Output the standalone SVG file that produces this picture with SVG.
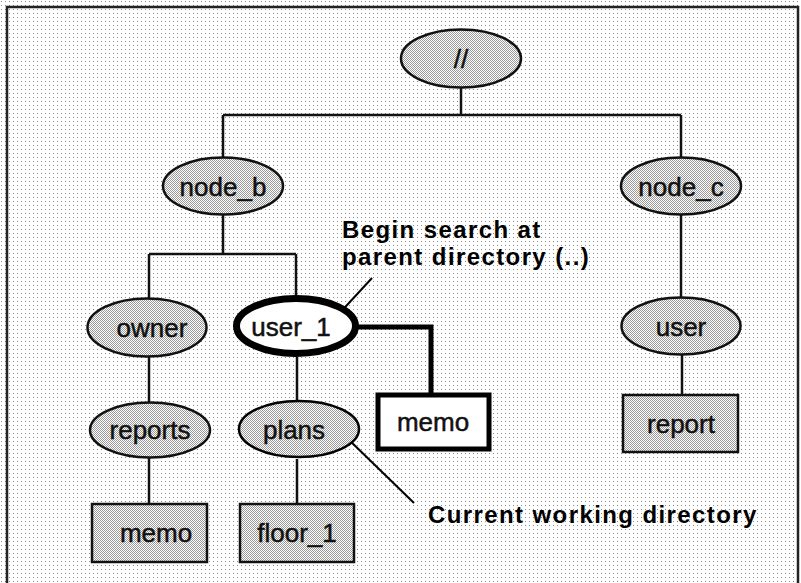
<svg xmlns="http://www.w3.org/2000/svg" width="801" height="583" viewBox="0 0 801 583">
  <defs>
    <!-- light screen for the page background -->
    <pattern id="screen-light" patternUnits="userSpaceOnUse" x="0" y="0" width="4" height="4">
      <rect width="4" height="4" fill="#ffffff"/>
      <rect x="1" y="1" width="1" height="1" fill="#8a8a8a"/>
    </pattern>
    <!-- denser screen for directory and file nodes -->
    <pattern id="screen-dense" patternUnits="userSpaceOnUse" x="0" y="0" width="2" height="2">
      <rect width="2" height="2" fill="#ffffff"/>
      <rect x="0" y="0" width="1" height="1" fill="#999999"/>
      <rect x="1" y="1" width="1" height="1" fill="#999999"/>
    </pattern>
    <style>
      .dir { fill: url(#screen-dense); stroke: #111; stroke-width: 2.5; }
      .file { fill: url(#screen-dense); stroke: #111; stroke-width: 2.5; }
      .hl { stroke: #000; }
      .lbl { font-family: "Liberation Sans", Arial, Helvetica, sans-serif; font-size: 26px; fill: #111; stroke: #111; stroke-width: 0.5; text-anchor: middle; }
      .note { font-family: "Liberation Sans", Arial, Helvetica, sans-serif; font-size: 24px; font-weight: bold; fill: #000; letter-spacing: 1.4px; }
      .edge { fill: none; stroke: #111; stroke-width: 2.5; }
      .edge-bold { fill: none; stroke: #000; stroke-width: 5; }
      .leader { fill: none; stroke: #000; stroke-width: 2; }
    </style>
  </defs>

  <!-- page -->
  <rect x="0" y="0" width="801" height="583" fill="url(#screen-light)"/>
  <path d="M7,583 V7 H798 V583" fill="none" stroke="#222" stroke-width="2.5"/>

  <!-- connectors -->
  <g id="connectors">
    <path class="edge" d="M461,88 V115 M223,115 H681 M223,115 V157 M681,115 V157"/>
    <path class="edge" d="M223,215 V254 M149,254 H296 M149,254 V298 M296,254 V296"/>
    <path class="edge" d="M149,357 V402 M149,458 V504"/>
    <path class="edge" d="M297,357 V400 M297,459 V504"/>
    <path class="edge" d="M681,215 V297 M682,355 V395"/>
    <path class="edge-bold" d="M358,327 H431 V393"/>
    <path class="leader" d="M372,278 L336,317"/>
    <path class="leader" d="M346,437 L414,503"/>
  </g>

  <g id="root">
    <ellipse class="dir" cx="461" cy="58.5" rx="60" ry="29"/>
    <text class="lbl" x="461" y="68">//</text>
  </g>

  <g id="node_b">
    <ellipse class="dir" cx="223" cy="186" rx="60" ry="28.5"/>
    <text class="lbl" x="223" y="196">node_b</text>
  </g>

  <g id="node_c">
    <ellipse class="dir" cx="681" cy="186" rx="60" ry="28.5"/>
    <text class="lbl" x="681" y="196">node_c</text>
  </g>

  <g id="owner">
    <ellipse class="dir" cx="147" cy="327.5" rx="59.5" ry="29"/>
    <text class="lbl" x="152" y="337">owner</text>
  </g>

  <g id="user_1">
    <ellipse cx="296" cy="326" rx="59.5" ry="27.5" fill="#ffffff" stroke="#000" stroke-width="7"/>
    <text class="lbl" x="291" y="336">user_1</text>
  </g>

  <g id="user">
    <ellipse class="dir" cx="681" cy="326" rx="59.5" ry="28.5"/>
    <text class="lbl" x="681" y="336">user</text>
  </g>

  <g id="reports">
    <ellipse class="dir" cx="150" cy="430" rx="60" ry="27.5"/>
    <text class="lbl" x="150" y="439">reports</text>
  </g>

  <g id="plans">
    <ellipse class="dir hl" cx="299" cy="429" rx="60" ry="28" stroke-width="5"/>
    <text class="lbl" x="294" y="439">plans</text>
  </g>

  <g id="memo_reports">
    <rect class="file" x="92" y="504" width="115" height="58"/>
    <text class="lbl" x="156" y="542">memo</text>
  </g>

  <g id="floor_1">
    <rect class="file" x="240" y="504" width="114" height="58"/>
    <text class="lbl" x="297" y="542">floor_1</text>
  </g>

  <g id="memo_user_1">
    <rect x="378" y="395" width="111" height="54" fill="#ffffff" stroke="#000" stroke-width="5"/>
    <text class="lbl" x="433" y="431">memo</text>
  </g>

  <g id="report">
    <rect class="file" x="623" y="395" width="115" height="57"/>
    <text class="lbl" x="681" y="433">report</text>
  </g>

  <!-- annotations -->
  <g id="note_parent">
    <text class="note" x="342" y="238">Begin search at</text>
    <text class="note" x="342" y="265">parent directory (..)</text>
  </g>
  <g id="note_cwd">
    <text class="note" x="428" y="523">Current working directory</text>
  </g>
</svg>
